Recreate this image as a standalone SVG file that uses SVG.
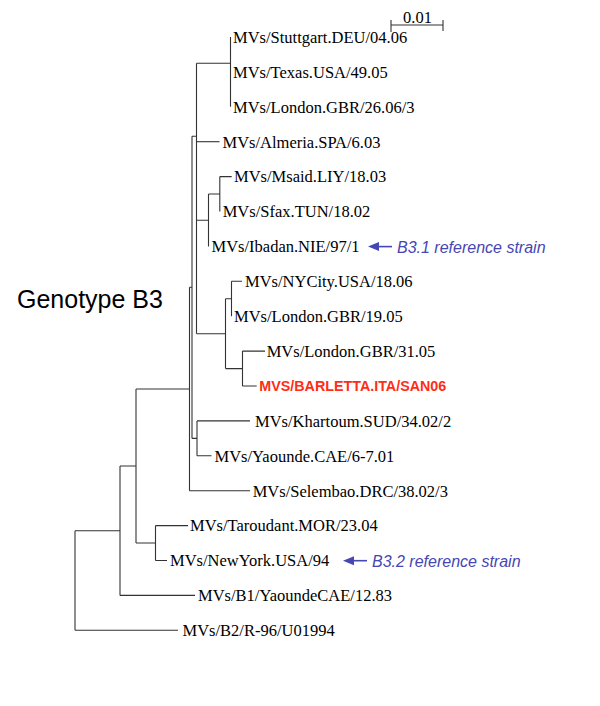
<svg xmlns="http://www.w3.org/2000/svg" width="600" height="706" viewBox="0 0 600 706">
<style>
.ln{stroke:#333;stroke-width:1.1;fill:none}
.lb{font-family:"Liberation Serif","Times New Roman",serif;font-size:16.5px;fill:#000}
.red{font-family:"Liberation Sans",Arial,sans-serif;font-size:14.3px;font-weight:bold;fill:#ff2d16}
.ref{font-family:"Liberation Sans",Arial,sans-serif;font-size:16px;font-style:italic;fill:#4646b4}
.arr{stroke:#4646b4;stroke-width:1.6;fill:none}
.gt{font-family:"Liberation Sans",Arial,sans-serif;font-size:25px;fill:#000}
</style>
<defs>
<marker id="ah" markerUnits="userSpaceOnUse" markerWidth="12" markerHeight="10" refX="0" refY="5" orient="auto">
<path d="M11,5 L0,0.5 L0,9.5 Z" fill="#4646b4"/>
</marker>
</defs>
<rect width="600" height="706" fill="#fff"/>
<g id="connectors" class="ln">
<path d="M391,20 V32 M443,20 V31 M391,25 H443"/>
<path d="M230.5,37 V106.8 M196.5,63.2 H230.5"/>
<path d="M196.5,63.2 V333.7"/>
<path d="M196.5,141.7 H219.5"/>
<path d="M219.8,176.6 V211.5 M219.8,176.6 H231.7 M208.5,194 H219.8 M208.5,194 V246.4 M196.5,220.2 H208.5"/>
<path d="M231.5,281.3 V316.2 M231.5,281.3 H242 M225.5,298.8 H231.5 M225.5,298.8 V368.6"/>
<path d="M242.5,351.1 V386 M242.5,351.1 H265 M242.5,386 H256.7 M225.5,368.6 H242.5 M196.5,333.7 H225.5"/>
<path d="M192,136.3 H196.5 M192,136.3 V438.4"/>
<path d="M197,420.9 V455.8 M197,420.9 H250 M197,455.8 H211.5 M192,438.4 H197"/>
<path d="M189.5,287.3 H192 M189.5,287.3 V490.7 M189.5,490.7 H250"/>
<path d="M136,389 H189.5 M136,389 V543 M136,543 H155.5"/>
<path d="M155.5,525.6 V560.5 M155.5,525.6 H188 M155.5,560.5 H167"/>
<path d="M120,466 H136 M120,466 V595.4 M120,595.4 H195"/>
<path d="M75,530.7 H120 M75,530.7 V630.3 M75,630.3 H178"/>
</g>
<g id="scale"><text class="lb" x="403" y="23">0.01</text></g>
<g id="genotype"><text class="gt" x="17" y="308">Genotype B3</text></g>
<g id="n-stuttgart"><text class="lb" x="233" y="42.8">MVs/Stuttgart.DEU/04.06</text></g>
<g id="n-texas"><text class="lb" x="233" y="77.7">MVs/Texas.USA/49.05</text></g>
<g id="n-london26"><text class="lb" x="233" y="112.6">MVs/London.GBR/26.06/3</text></g>
<g id="n-almeria"><text class="lb" x="222.5" y="147.5">MVs/Almeria.SPA/6.03</text></g>
<g id="n-msaid"><text class="lb" x="234" y="182.4">MVs/Msaid.LIY/18.03</text></g>
<g id="n-sfax"><text class="lb" x="222.7" y="217.3">MVs/Sfax.TUN/18.02</text></g>
<g id="n-ibadan"><text class="lb" x="211.5" y="252.2">MVs/Ibadan.NIE/97/1</text></g>
<g id="n-nycity"><text class="lb" x="245" y="287.1">MVs/NYCity.USA/18.06</text></g>
<g id="n-london19"><text class="lb" x="234" y="322">MVs/London.GBR/19.05</text></g>
<g id="n-london31"><text class="lb" x="266.7" y="356.9">MVs/London.GBR/31.05</text></g>
<g id="n-barletta"><text class="red" x="259.3" y="391">MVS/BARLETTA.ITA/SAN06</text></g>
<g id="n-khartoum"><text class="lb" x="255" y="426.7">MVs/Khartoum.SUD/34.02/2</text></g>
<g id="n-yaounde"><text class="lb" x="214.5" y="461.6">MVs/Yaounde.CAE/6-7.01</text></g>
<g id="n-selembao"><text class="lb" x="252.7" y="496.5">MVs/Selembao.DRC/38.02/3</text></g>
<g id="n-taroudant"><text class="lb" x="190" y="531.4">MVs/Taroudant.MOR/23.04</text></g>
<g id="n-newyork"><text class="lb" x="170" y="566.3">MVs/NewYork.USA/94</text></g>
<g id="n-b1"><text class="lb" x="198" y="601.2">MVs/B1/YaoundeCAE/12.83</text></g>
<g id="n-b2"><text class="lb" x="182.5" y="636.1">MVs/B2/R-96/U01994</text></g>
<g id="ref-b31">
<path class="arr" d="M392,246.6 H379" marker-end="url(#ah)"/>
<text class="ref" x="397" y="252.5">B3.1 reference strain</text>
</g>
<g id="ref-b32">
<path class="arr" d="M367,560.7 H354" marker-end="url(#ah)"/>
<text class="ref" x="372" y="566.5">B3.2 reference strain</text>
</g>
</svg>
